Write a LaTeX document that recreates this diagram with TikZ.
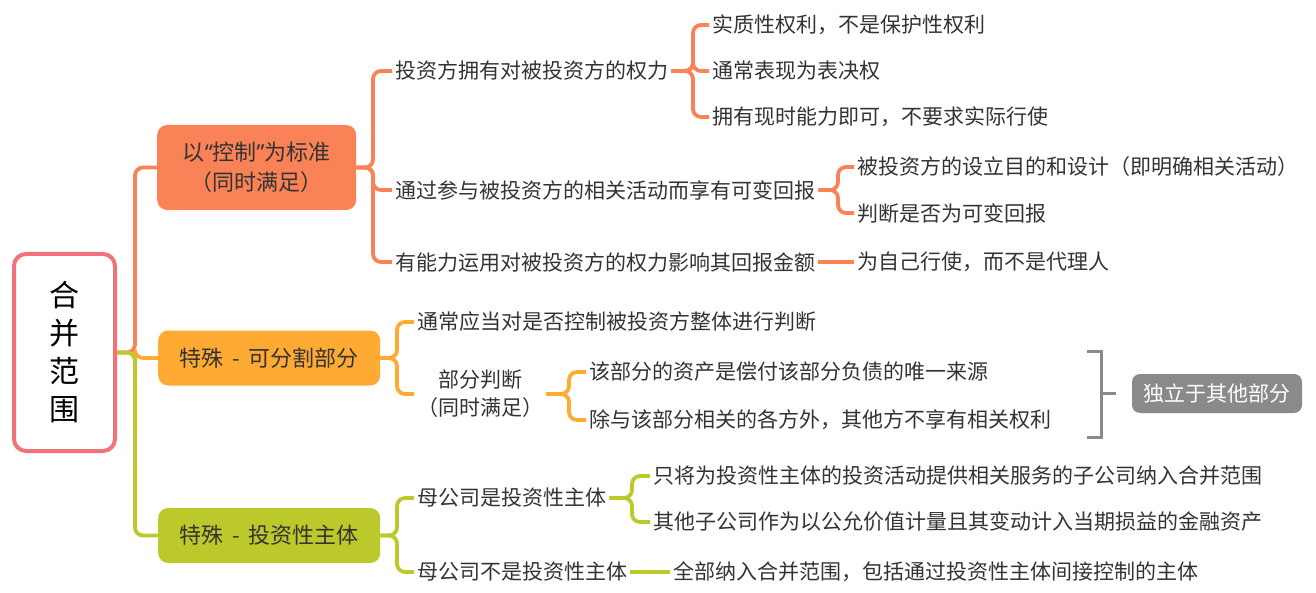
\documentclass[tikz,border=0pt]{standalone}
\usepackage{fontspec}
\setmainfont{Noto Sans CJK SC}
\newfontfamily\quotefont{Noto Sans}
\definecolor{rootc}{RGB}{240,114,122}
\definecolor{ctrl}{RGB}{249,131,87}
\definecolor{part}{RGB}{255,170,51}
\definecolor{inv}{RGB}{187,201,43}
\definecolor{note}{RGB}{138,138,138}
\definecolor{ink}{RGB}{51,51,51}
\newcommand{\gap}{\hspace{0.4em}}
\tikzset{
  rootbox/.style={draw=rootc, line width=4pt, rounded corners=12pt, fill=white,
    minimum width=101pt, minimum height=197pt, align=center, text=black,
    font=\fontsize{30}{38}\selectfont},
  topic/.style={fill=#1, rounded corners=10pt, anchor=west, text=ink, align=center,
    minimum height=55pt, minimum width=222pt, inner xsep=0pt,
    font=\fontsize{22}{30}\selectfont},
  leaf/.style={anchor=west, inner sep=3pt, text=ink, align=center,
    font=\fontsize{21}{28}\selectfont},
  link/.style={draw=#1, line width=3.8pt, rounded corners=8pt}
}
\newcommand{\branch}[4]{
  \draw[link=#1] (#2.east) -- (#2.east -| #4) |- (#3.west);
}
\newcommand{\straight}[3]{
  \draw[link=#1] (#2.east) -- (#3.west);
}

\begin{document}
\begin{tikzpicture}[x=1pt,y=-1pt]
  \useasboundingbox (0,0) rectangle (1316,593);
  \node[rootbox] (root) at (64.5,352.5) {合\\并\\范\\围};
  \node[topic=ctrl, minimum height=85pt, minimum width=199pt] (ctrlbox) at (157,167.5)
    {以{\quotefont “}控制{\quotefont ”}为标准\\（同时满足）};
  \node[topic=part] (partbox) at (158,358) {特殊\gap{}-\gap{}可分割部分};
  \node[topic=inv] (invbox) at (158,535.5) {特殊\gap{}-\gap{}投资性主体};
  \coordinate (s0) at (135,0);
  \branch{part}{root}{partbox}{s0}
  \branch{ctrl}{root}{ctrlbox}{s0}
  \branch{inv}{root}{invbox}{s0}

  % control
  \coordinate (s1) at (373,0);
  \foreach \n/\y/\t in {power/71/投资方拥有对被投资方的权力,
      ret/190/通过参与被投资方的相关活动而享有可变回报,
      use/262/有能力运用对被投资方的权力影响其回报金额}{
    \node[leaf] (\n) at (392,\y) {\t};
    \branch{ctrl}{ctrlbox}{\n}{s1}
  }
  \coordinate (s11) at (693,0);
  \foreach \n/\y/\t in {subst/25/实质性权利，不是保护性权利,
      vote/71/通常表现为表决权,
      now/117/拥有现时能力即可，不要求实际行使}{
    \node[leaf] (\n) at (709,\y) {\t};
    \branch{ctrl}{power}{\n}{s11}
  }
  \coordinate (s12) at (838,0);
  \foreach \n/\y/\t in {aim/167/被投资方的设立目的和设计（即明确相关活动）,
      vary/213/判断是否为可变回报}{
    \node[leaf] (\n) at (854,\y) {\t};
    \branch{ctrl}{ret}{\n}{s12}
  }
  \node[leaf] (agent) at (854,262) {为自己行使，而不是代理人};
  \straight{ctrl}{use}{agent}

  % separable part
  \coordinate (s2) at (397,0);
  \node[leaf] (whole) at (414,322) {通常应当对是否控制被投资方整体进行判断};
  \node[leaf] (piece) at (414,394) {部分判断\\（同时满足）};
  \branch{part}{partbox}{whole}{s2}
  \branch{part}{partbox}{piece}{s2}
  \coordinate (s21) at (569,0);
  \foreach \n/\y/\t in {source/372/该部分的资产是偿付该部分负债的唯一来源,
      rights/420/除与该部分相关的各方外，其他方不享有相关权利}{
    \node[leaf] (\n) at (586,\y) {\t};
    \branch{part}{piece}{\n}{s21}
  }
  \draw[note, line width=3pt] (1087,351) -- (1101,351) -- (1101,437) -- (1087,437);
  \coordinate (brk) at (1101,393);
  \node[fill=note, rounded corners=8pt, text=white, minimum width=170pt, minimum height=39pt,
    inner sep=0pt, font=\fontsize{21}{28}\selectfont] (alone) at (1217,393.5) {独立于其他部分};
  \draw[note, line width=3pt] (brk) -- ++(15,0);

  % investment entity
  \coordinate (s3) at (397,0);
  \node[leaf] (isinv) at (414,498) {母公司是投资性主体};
  \node[leaf] (notinv) at (414,572) {母公司不是投资性主体};
  \branch{inv}{invbox}{isinv}{s3}
  \branch{inv}{invbox}{notinv}{s3}
  \coordinate (s31) at (632,0);
  \foreach \n/\y/\t in {serve/476/只将为投资性主体的投资活动提供相关服务的子公司纳入合并范围,
      fair/522/其他子公司作为以公允价值计量且其变动计入当期损益的金融资产}{
    \node[leaf] (\n) at (650,\y) {\t};
    \branch{inv}{isinv}{\n}{s31}
  }
  \node[leaf] (allin) at (670,572) {全部纳入合并范围，包括通过投资性主体间接控制的主体};
  \straight{inv}{notinv}{allin}
\end{tikzpicture}
\end{document}
